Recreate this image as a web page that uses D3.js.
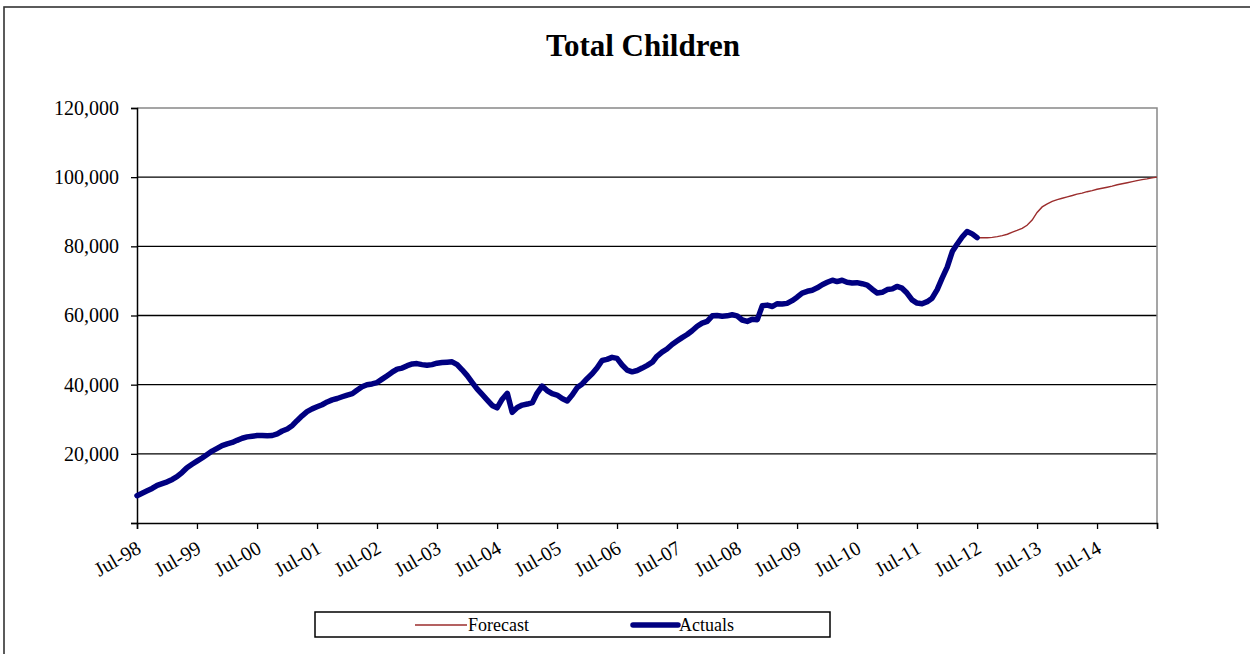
<!DOCTYPE html>
<html>
<head>
<meta charset="utf-8">
<script src="https://cdn.jsdelivr.net/npm/d3@7"></script>
<style>
  html, body { margin: 0; padding: 0; background: #fff; }
  svg { display: block; }
  text { font-family: "Liberation Serif", "Times New Roman", serif; fill: #000; }
</style>
</head>
<body>
<svg id="chart" width="1250" height="654"></svg>
<script>
// Monthly actuals, Jul-98 through Jul-12
const actualsStart = new Date(1998, 6, 1);
const actuals = [
  7900, 8600, 9300, 10000, 10900, 11400, 11900, 12600, 13400, 14600, 16000, 17000,
  17900, 18800, 19800, 20800, 21600, 22400, 22900, 23300, 23900, 24500, 24900, 25100,
  25300, 25300, 25200, 25300, 25800, 26600, 27200, 28200, 29600, 31000, 32200, 33000,
  33600, 34200, 35000, 35600, 36000, 36500, 37000, 37400, 38400, 39400, 40000, 40200,
  40600, 41600, 42600, 43600, 44500, 44800, 45500, 46000, 46100, 45800, 45600, 45800,
  46200, 46400, 46500, 46600, 45800, 44300, 42600, 40600, 38800, 37200, 35600, 34000,
  33300, 35800, 37500, 32000, 33400, 34100, 34400, 34800, 37500, 39600, 38300, 37400,
  37000, 36000, 35300, 37000, 39200, 40200, 41800, 43200, 44800, 47000, 47300, 47900,
  47600, 45700, 44200, 43700, 44100, 44800, 45600, 46500, 48200, 49400, 50300, 51600,
  52600, 53600, 54500, 55600, 56900, 57800, 58300, 59900, 60000, 59800, 59900, 60200,
  59900, 58700, 58300, 58900, 58800, 62800, 63000, 62600, 63400, 63300, 63500, 64300,
  65300, 66500, 67000, 67300, 68000, 68900, 69600, 70200, 69800, 70200, 69600, 69400,
  69500, 69200, 68800, 67600, 66500, 66700, 67500, 67700, 68400, 67900, 66500, 64500,
  63600, 63400, 64000, 65000, 67500, 70800, 74000, 78500, 80600, 82700, 84300, 83600,
  82500
];

// Monthly forecast, Jul-12 through Jul-15
const forecastStart = new Date(2012, 6, 1);
const forecast = [
  82500, 82500, 82500, 82600, 82800, 83100, 83500, 84100, 84600, 85200, 86100, 87600,
  89800, 91400, 92300, 93000, 93500, 93900, 94300, 94700, 95100, 95400, 95800, 96100,
  96500, 96800, 97100, 97400, 97800, 98100, 98400, 98700, 99000, 99300, 99500, 99800,
  100000
];

const xTickLabels = ["Jul-98", "Jul-99", "Jul-00", "Jul-01", "Jul-02", "Jul-03", "Jul-04",
  "Jul-05", "Jul-06", "Jul-07", "Jul-08", "Jul-09", "Jul-10", "Jul-11", "Jul-12",
  "Jul-13", "Jul-14", ""];
const yTickValues = [0, 20000, 40000, 60000, 80000, 100000, 120000];

const seriesNames = ["Forecast", "Actuals"];
const seriesColors = { Forecast: "#9b2d2d", Actuals: "#000080" };

const toPoints = (start, values) =>
  values.map((v, i) => ({ date: d3.timeMonth.offset(start, i), value: v }));
const actualPts = toPoints(actualsStart, actuals);
const forecastPts = toPoints(forecastStart, forecast);

const svg = d3.select("#chart");
const plot = { left: 137, right: 1157, top: 108, bottom: 523 };

// outer frame
svg.append("rect")
  .attr("x", 4).attr("y", 7).attr("width", 1300).attr("height", 700)
  .attr("fill", "none").attr("stroke", "#333").attr("stroke-width", 1.6);

svg.append("text")
  .attr("x", 643).attr("y", 56)
  .attr("text-anchor", "middle")
  .style("font-size", "31px").style("font-weight", "bold")
  .text("Total Children");

const x = d3.scaleTime()
  .domain([new Date(1998, 6, 1), new Date(2015, 6, 1)])
  .range([plot.left, plot.right]);
const y = d3.scaleLinear()
  .domain([0, 120000])
  .range([plot.bottom, plot.top]);

// horizontal gridlines
svg.append("g")
  .selectAll("line")
  .data(yTickValues.filter(v => v > 0 && v < 120000))
  .join("line")
  .attr("x1", plot.left).attr("x2", plot.right)
  .attr("y1", d => y(d)).attr("y2", d => y(d))
  .attr("stroke", "#000").attr("stroke-width", 1.3);

// plot border (top and right)
svg.append("path")
  .attr("d", `M${plot.left},${plot.top}H${plot.right}V${plot.bottom}`)
  .attr("fill", "none").attr("stroke", "#888").attr("stroke-width", 1.5);

// y axis
const yAxis = svg.append("g")
  .attr("transform", `translate(${plot.left},0)`)
  .call(d3.axisLeft(y)
    .tickValues(yTickValues)
    .tickSize(6)
    .tickPadding(12)
    .tickFormat(d => d === 0 ? "" : d3.format(",")(d)));
yAxis.select(".domain").attr("stroke", "#000").attr("stroke-width", 1.5);
yAxis.selectAll(".tick line").attr("stroke", "#000").attr("stroke-width", 1.3);
yAxis.selectAll("text").style("font-size", "20px").attr("font-family", null);

// x axis
const xTicks = xTickLabels.map((_, i) => d3.timeYear.offset(new Date(1998, 6, 1), i));
const xAxis = svg.append("g")
  .attr("transform", `translate(0,${plot.bottom})`)
  .call(d3.axisBottom(x)
    .tickValues(xTicks)
    .tickSize(6)
    .tickFormat((d, i) => xTickLabels[i]));
xAxis.select(".domain").attr("stroke", "#000").attr("stroke-width", 1.5);
xAxis.selectAll(".tick line").attr("stroke", "#000").attr("stroke-width", 1.3);
xAxis.selectAll("text")
  .attr("font-family", null)
  .style("font-size", "20px")
  .attr("text-anchor", "end")
  .attr("dy", null)
  .attr("y", 0)
  .attr("transform", "translate(5,29) rotate(-30)");

const line = d3.line()
  .x(d => x(d.date))
  .y(d => y(d.value));

svg.append("path")
  .datum(forecastPts)
  .attr("d", line)
  .attr("fill", "none")
  .attr("stroke", seriesColors.Forecast)
  .attr("stroke-width", 1.4);

svg.append("path")
  .datum(actualPts)
  .attr("d", line)
  .attr("fill", "none")
  .attr("stroke", seriesColors.Actuals)
  .attr("stroke-width", 5.5)
  .attr("stroke-linejoin", "round")
  .attr("stroke-linecap", "round");

// legend
const legend = svg.append("g");
legend.append("rect")
  .attr("x", 315).attr("y", 612).attr("width", 515).attr("height", 25)
  .attr("fill", "#fff").attr("stroke", "#000").attr("stroke-width", 1.5);
const legendItems = [
  { name: seriesNames[0], x1: 415, x2: 467, width: 1.4 },
  { name: seriesNames[1], x1: 633, x2: 678, width: 5.5 }
];
legendItems.forEach(it => {
  legend.append("line")
    .attr("x1", it.x1).attr("x2", it.x2)
    .attr("y1", 625).attr("y2", 625)
    .attr("stroke", seriesColors[it.name])
    .attr("stroke-width", it.width)
    .attr("stroke-linecap", it.width > 2 ? "round" : "butt");
  legend.append("text")
    .attr("x", it.x2 + 1).attr("y", 631)
    .style("font-size", "18px")
    .text(it.name);
});
</script>
</body>
</html>
